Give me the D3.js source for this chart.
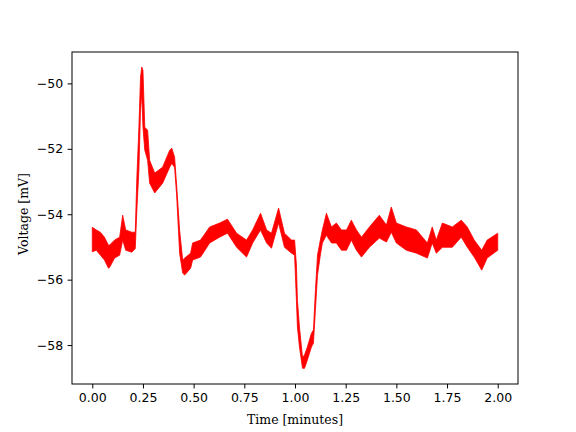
<!DOCTYPE html>
<html>
<head>
<meta charset="utf-8">
<script src="https://cdn.jsdelivr.net/npm/d3@7"></script>
<style>
  body { margin: 0; background: #fff; }
  svg { display: block; }
  .tick text { font-family: "DejaVu Sans", sans-serif; font-size: 12.5px; fill: #000; }
  .axis-label { font-family: "DejaVu Serif", serif; font-size: 12.5px; fill: #000; }
</style>
</head>
<body>
<script>
// trace: time (minutes) and the upper / lower edge of the noisy band (mV)
const time = [0.00, 0.02, 0.04, 0.06, 0.08, 0.086, 0.11, 0.135, 0.15, 0.165, 0.195, 0.212,
  0.220, 0.230, 0.238, 0.244, 0.250, 0.259, 0.273, 0.283, 0.308, 0.347, 0.382, 0.392, 0.406,
  0.416, 0.431, 0.446, 0.456, 0.485, 0.495, 0.534, 0.579, 0.628, 0.667, 0.712, 0.761, 0.791,
  0.830, 0.860, 0.884, 0.919, 0.948, 0.983, 0.998, 1.007, 1.012, 1.022, 1.037, 1.047, 1.061,
  1.081, 1.091, 1.101, 1.111, 1.125, 1.135, 1.155, 1.180, 1.204, 1.229, 1.254, 1.278, 1.303,
  1.328, 1.367, 1.416, 1.451, 1.475, 1.500, 1.549, 1.599, 1.653, 1.677, 1.697, 1.727, 1.776,
  1.820, 1.850, 1.884, 1.921, 1.948, 2.00];
const upper = [-54.40, -54.48, -54.55, -54.70, -54.95, -54.94, -54.79, -54.70, -54.03, -54.48, -54.55, -54.55,
  -52.87, -51.34, -49.81, -49.50, -49.60, -51.34, -51.43, -52.35, -52.74, -52.56, -52.04, -51.98, -52.25,
  -53.10, -54.50, -55.40, -55.34, -55.19, -54.88, -54.79, -54.39, -54.27, -54.15, -54.58, -54.79, -54.48,
  -53.97, -54.48, -54.58, -53.81, -54.58, -54.79, -54.79, -55.55, -56.63, -57.45, -58.37, -58.30, -58.06,
  -57.64, -57.54, -56.30, -55.25, -54.79, -54.48, -53.97, -54.39, -54.27, -54.48, -54.48, -54.18, -54.48,
  -54.70, -54.39, -54.03, -54.33, -53.78, -54.27, -54.39, -54.48, -54.88, -54.39, -54.79, -54.27, -54.39,
  -54.18, -54.39, -54.79, -55.10, -54.79, -54.58];
const lower = [-55.15, -55.10, -55.25, -55.40, -55.65, -55.62, -55.34, -55.25, -54.79, -55.10, -55.16, -55.05,
  -53.87, -52.65, -50.81, -50.30, -51.34, -52.04, -52.35, -53.05, -53.35, -53.05, -52.56, -52.45, -52.56,
  -53.40, -55.20, -55.80, -55.86, -55.65, -55.40, -55.31, -54.88, -54.70, -54.58, -55.01, -55.31, -54.88,
  -54.48, -54.88, -55.04, -54.27, -55.01, -55.19, -55.25, -56.63, -57.45, -58.06, -58.71, -58.71, -58.46,
  -58.06, -57.94, -56.90, -55.86, -55.25, -54.88, -54.64, -54.88, -54.88, -55.10, -55.10, -54.79, -55.10,
  -55.31, -55.01, -54.73, -54.85, -54.55, -54.88, -55.10, -55.19, -55.34, -54.88, -55.19, -55.01, -55.01,
  -54.70, -55.01, -55.31, -55.71, -55.34, -55.10];

const xTicks = [0, 0.25, 0.5, 0.75, 1.0, 1.25, 1.5, 1.75, 2.0];
const yTicks = [-58, -56, -54, -52, -50];

const W = 576, H = 432;
const margin = { left: 72, top: 52, right: 58, bottom: 48 };
const TICK = 4.4, PAD = 4.4;

const svg = d3.select('body').append('svg').attr('width', W).attr('height', H);

const x = d3.scaleLinear().domain([-0.1, 2.1]).range([margin.left, W - margin.right]);
const y = d3.scaleLinear().domain([-59.19, -49.04]).range([H - margin.bottom, margin.top]);

const data = time.map((t, i) => ({ t: t, hi: upper[i], lo: lower[i] }));

// noisy trace drawn as its band
const band = d3.area()
  .x(d => x(d.t))
  .y0(d => y(d.lo))
  .y1(d => y(d.hi));

svg.append('path')
  .datum(data)
  .attr('d', band)
  .attr('fill', 'red')
  .attr('stroke', 'red')
  .attr('stroke-width', 0.8)
  .attr('stroke-linejoin', 'round');

const fmtY = d => d3.format('d')(d).replace('-', '\u2212');

svg.append('g')
  .attr('transform', `translate(0,${H - margin.bottom})`)
  .call(d3.axisBottom(x).tickValues(xTicks).tickFormat(d3.format('.2f')).tickSizeOuter(0).tickSize(TICK).tickPadding(PAD))
  .call(g => g.select('.domain').remove());

svg.append('g')
  .attr('transform', `translate(${margin.left},0)`)
  .call(d3.axisLeft(y).tickValues(yTicks).tickFormat(fmtY).tickSizeOuter(0).tickSize(TICK).tickPadding(PAD))
  .call(g => g.select('.domain').remove());

svg.selectAll('.tick line').attr('stroke', '#000').attr('stroke-width', 1);

// axes frame
svg.append('rect')
  .attr('x', margin.left)
  .attr('y', margin.top)
  .attr('width', W - margin.left - margin.right)
  .attr('height', H - margin.top - margin.bottom)
  .attr('fill', 'none')
  .attr('stroke', '#000')
  .attr('stroke-width', 1);

svg.append('text')
  .attr('class', 'axis-label')
  .attr('x', (margin.left + W - margin.right) / 2)
  .attr('y', 424)
  .attr('text-anchor', 'middle')
  .text('Time [minutes]');

svg.append('text')
  .attr('class', 'axis-label')
  .attr('transform', `translate(28,214) rotate(-90)`)
  .attr('text-anchor', 'middle')
  .text('Voltage [mV]');
</script>
</body>
</html>
